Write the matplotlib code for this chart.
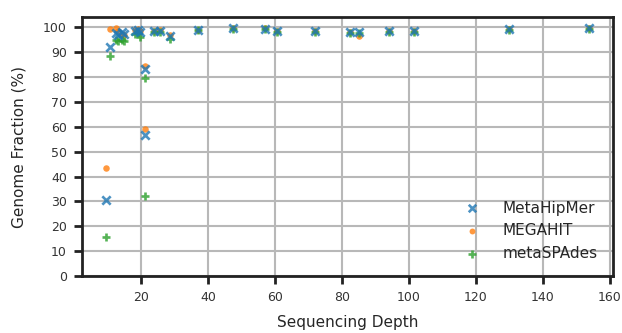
import numpy as np
import matplotlib
matplotlib.use("Agg")
import matplotlib.pyplot as plt
import seaborn as sns

# sequencing depth of each sample
depth = [9.6, 10.8, 12.4, 13.2, 14.2, 15.0, 18.2, 19.0, 19.6, 21.3, 21.3,
         23.9, 25.8, 28.6, 36.9, 47.5, 57.0, 60.6, 71.8, 82.5, 85.0, 94.0,
         101.5, 130.0, 153.8]

# genome fraction (%) per assembler
metahipmer = [30.6, 92.2, 97.8, 97.0, 98.0, 97.2, 98.6, 98.9, 98.2, 83.3, 56.8,
              98.5, 98.6, 96.5, 99.0, 99.6, 99.5, 98.5, 98.6, 98.2, 98.2, 98.6,
              98.6, 99.2, 99.6]
megahit = [43.4, 99.2, 99.6, 98.5, 97.5, 97.0, 99.0, 99.2, 98.5, 84.6, 59.2,
           98.6, 98.8, 96.8, 99.1, 99.7, 99.6, 98.6, 98.7, 98.0, 96.7, 98.6,
           98.7, 99.2, 99.7]
metaspades = [15.7, 88.6, 95.0, 94.5, 95.0, 94.6, 97.5, 97.6, 96.0, 79.7, 32.3,
              98.0, 98.2, 95.5, 98.8, 99.3, 99.3, 98.2, 98.3, 97.7, 97.6, 98.3,
              98.3, 99.0, 99.5]

sns.set_style("ticks")
plt.rcParams["font.family"] = ["DejaVu Sans"]

fig = plt.figure(figsize=(6.22, 3.33), dpi=100)
ax = fig.add_axes([0.132, 0.171, 0.854, 0.778])

ax.scatter(depth, metahipmer, marker="x", s=36, linewidths=1.9,
           color="#1f77b4", alpha=0.8, label="MetaHipMer", zorder=5)
ax.scatter(depth, megahit, marker="o", s=22, linewidths=0,
           color="#ff7f0e", alpha=0.8, label="MEGAHIT", zorder=3)
ax.scatter(depth, metaspades, marker="+", s=36, linewidths=1.9,
           color="#2ca02c", alpha=0.8, label="metaSPAdes", zorder=4)

ax.set_ylim(0, 104.2)
ax.set_xlim(2.4, 161)
ax.set_yticks(np.arange(0, 101, 10))
ax.set_xticks(np.arange(20, 161, 20))
ax.grid(True, color="#b8b8b8", linewidth=1.5)
ax.set_axisbelow(True)

for s in ax.spines.values():
    s.set_linewidth(2)
    s.set_color("#222222")
ax.tick_params(axis="both", labelsize=9, length=6, width=2, pad=5,
               colors="#222222", labelcolor="#333333")

ax.set_xlabel("Sequencing Depth", fontsize=11, labelpad=8)
ax.set_ylabel("Genome Fraction (%)", fontsize=11, labelpad=12)

ax.legend(loc="lower right", frameon=False, fontsize=11, markerscale=0.9,
          handletextpad=1.0, borderaxespad=0.6)

fig.savefig("out.png", dpi=100)
